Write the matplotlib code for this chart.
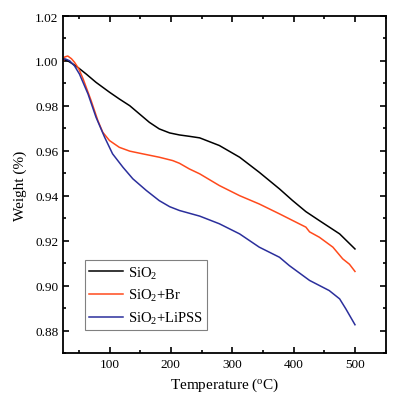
import matplotlib
matplotlib.use("Agg")
import matplotlib.pyplot as plt

plt.rcParams['font.family'] = ['Liberation Serif', 'DejaVu Serif']
plt.rcParams['mathtext.fontset'] = 'custom'
plt.rcParams['mathtext.rm'] = 'Liberation Serif'
plt.rcParams['mathtext.it'] = 'Liberation Serif:italic'

# SiO2
t_sio2 = [25, 30, 40, 50, 62, 78, 100, 116, 133, 149, 165, 181, 198, 214, 230, 247, 279, 312, 344, 377, 398, 420, 442, 475, 500]
w_sio2 = [1.0005, 1.0004, 0.9987, 0.9968, 0.9942, 0.9905, 0.9861, 0.9831, 0.9801, 0.9764, 0.9727, 0.9698, 0.9680, 0.9671, 0.9665, 0.9658, 0.9624, 0.9572, 0.9505, 0.9431, 0.9380, 0.9330, 0.9290, 0.9231, 0.9164]

# SiO2+Br
t_br = [25, 27, 32, 38, 43, 50, 57, 70, 81, 89, 100, 116, 133, 154, 181, 203, 214, 230, 247, 279, 312, 344, 377, 409, 420, 426, 442, 464, 480, 491, 500]
w_br = [1.0000, 1.0018, 1.0022, 1.0010, 0.9994, 0.9965, 0.9920, 0.9824, 0.9735, 0.9683, 0.9646, 0.9616, 0.9599, 0.9587, 0.9572, 0.9557, 0.9545, 0.9520, 0.9498, 0.9446, 0.9401, 0.9364, 0.9320, 0.9276, 0.9261, 0.9240, 0.9216, 0.9172, 0.9120, 0.9096, 0.9064]

# SiO2+LiPSS
t_li = [25, 28, 35, 43, 51, 65, 78, 92, 105, 122, 138, 160, 181, 198, 214, 247, 279, 312, 344, 377, 393, 426, 458, 475, 485, 500]
w_li = [1.0008, 1.0009, 1.0001, 0.9978, 0.9942, 0.9853, 0.9750, 0.9661, 0.9587, 0.9527, 0.9476, 0.9424, 0.9379, 0.9352, 0.9335, 0.9310, 0.9276, 0.9231, 0.9172, 0.9127, 0.9090, 0.9024, 0.8979, 0.8942, 0.8898, 0.8827]

labels = ['SiO$_2$', 'SiO$_2$+Br', 'SiO$_2$+LiPSS']
colors = ['#000000', '#FF4A1C', '#2B2F9C']

fig = plt.figure(figsize=(3.98, 4.02), dpi=100)
ax = fig.add_axes([0.1595, 0.1187, 0.8095, 0.839])

ax.plot(t_sio2, w_sio2, color=colors[0], lw=1.1, label=labels[0])
ax.plot(t_br, w_br, color=colors[1], lw=1.1, label=labels[1])
ax.plot(t_li, w_li, color=colors[2], lw=1.1, label=labels[2])

ax.set_xlim(25, 549)
ax.set_ylim(0.87, 1.02)
ax.set_xticks([100, 200, 300, 400, 500])
ax.set_xticks([50, 150, 250, 350, 450, 550], minor=True)
ax.set_yticks([0.88, 0.90, 0.92, 0.94, 0.96, 0.98, 1.00, 1.02])
ax.set_yticks([0.87, 0.89, 0.91, 0.93, 0.95, 0.97, 0.99, 1.01], minor=True)
ax.set_yticklabels(['0.88', '0.90', '0.92', '0.94', '0.96', '0.98', '1.00', '1.02'])
ax.tick_params(which='both', direction='in', top=True, right=True, labelsize=9.5, width=1.2)
ax.tick_params(which='major', length=4.5)
ax.tick_params(which='minor', length=2.5)
for s in ax.spines.values():
    s.set_linewidth(1.3)

ax.set_xlabel('Temperature ($^{\\rm o}$C)', fontsize=11, labelpad=4)
ax.set_ylabel('Weight (%)', fontsize=11, labelpad=6)

leg = ax.legend(loc='lower left', bbox_to_anchor=(0.066, 0.068), fontsize=10.5,
                frameon=True, fancybox=False, edgecolor='#808080', framealpha=1,
                handlelength=2.35, handletextpad=0.3, borderpad=0.3, labelspacing=0.45,
                borderaxespad=0)
leg.get_frame().set_linewidth(0.8)

fig.savefig('out.png', dpi=100)
